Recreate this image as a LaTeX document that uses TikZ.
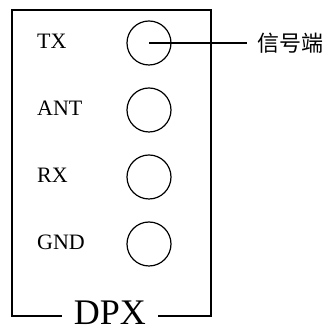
\documentclass[tikz,border=0pt]{standalone}
\usepackage{fontspec}
\setmainfont{Liberation Serif}
\newfontfamily\cjkfont{Noto Sans CJK SC}
\begin{document}
\begin{tikzpicture}[x=1pt,y=1pt]
  % Base settings
  \tikzset{
    boxline/.style={line width=1.6pt},
    portline/.style={line width=1.2pt},
    port/.style={circle, draw, portline, minimum size=44pt, inner sep=0pt},
    portlabel/.style={anchor=base west, inner sep=0pt, font=\fontsize{22pt}{26pt}\selectfont}
  }
  \useasboundingbox (0,0) rectangle (330,329);

  % --- Ports ---
  \foreach \name/\lab [count=\i] in {tx/TX, ant/ANT, rx/RX, gnd/GND} {
    \node[port] (\name) at (149,{286-67*(\i-1)}) {};
    \node[portlabel] (\name-lab) at (37,{280-67*(\i-1)}) {\lab};
  }

  % --- Signal line ---
  \node[anchor=west, inner xsep=10pt, font=\fontsize{22pt}{26pt}\selectfont\cjkfont] (sig) at (247,286) {信号端};
  \draw[portline] (tx.center) -- (sig.west);

  % --- Box ---
  \coordinate (bl) at (12,13);
  \coordinate (tr) at (211,319);
  \node[anchor=base, inner xsep=12pt, inner ysep=0pt, text depth=0pt, font=\fontsize{36pt}{40pt}\selectfont] (dpx) at (110,4) {DPX};
  \draw[boxline]
    (dpx.west |- bl) -- (bl) -- (bl |- tr) -- (tr) -- (tr |- bl) -- (dpx.east |- bl);

\end{tikzpicture}
\end{document}
